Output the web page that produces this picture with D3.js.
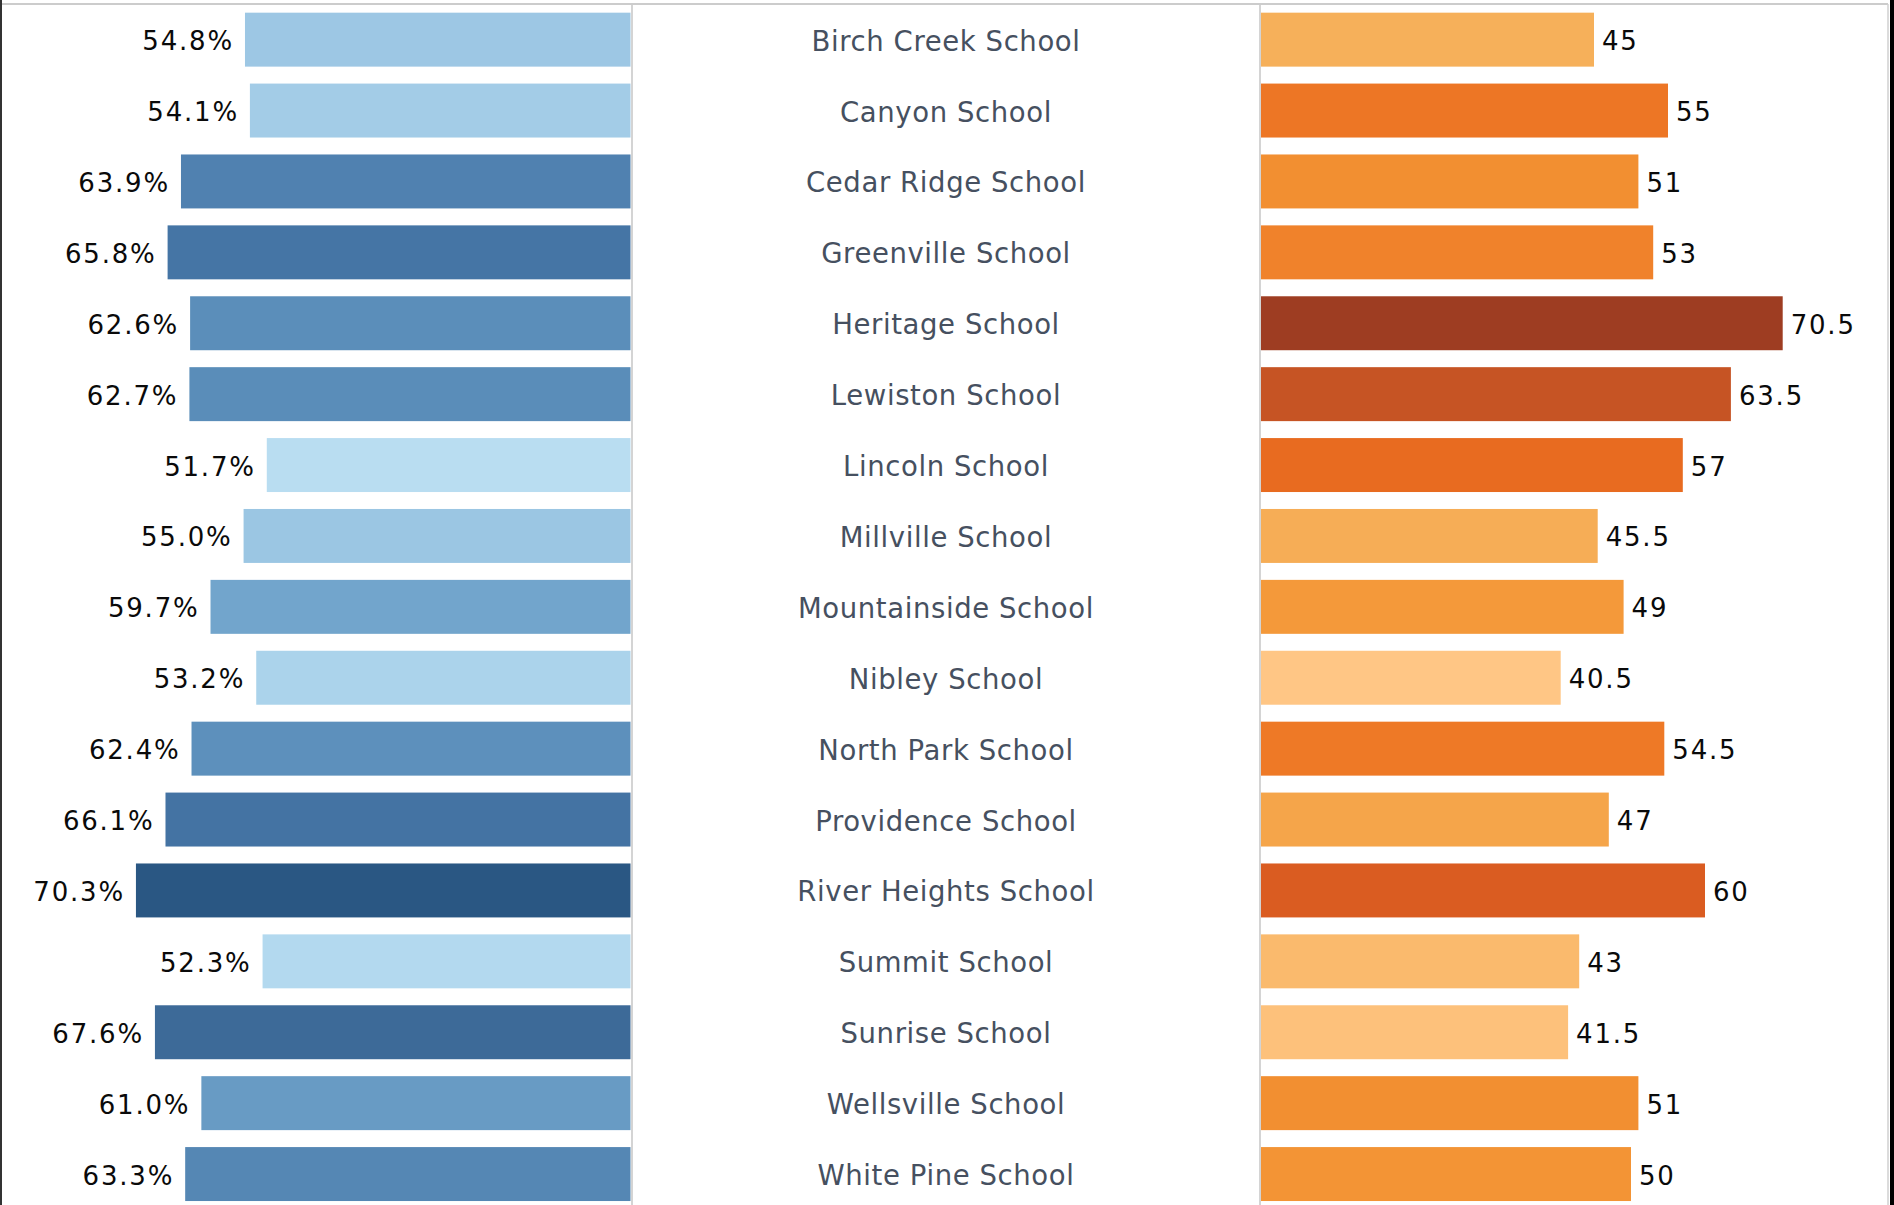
<!DOCTYPE html>
<html>
<head>
<meta charset="utf-8">
<script src="https://cdn.jsdelivr.net/npm/d3@7"></script>
<style>
  html, body { margin: 0; padding: 0; background: #fff; overflow: hidden; }
  svg { display: block; }
</style>
</head>
<body>
<svg id="chart" width="1894" height="1205"></svg>
<script>
const schools = ["Birch Creek School","Canyon School","Cedar Ridge School","Greenville School","Heritage School","Lewiston School","Lincoln School","Millville School","Mountainside School","Nibley School","North Park School","Providence School","River Heights School","Summit School","Sunrise School","Wellsville School","White Pine School"];
const leftValues = [54.8,54.1,63.9,65.8,62.6,62.7,51.7,55.0,59.7,53.2,62.4,66.1,70.3,52.3,67.6,61.0,63.3];
const rightValues = [45,55,51,53,70.5,63.5,57,45.5,49,40.5,54.5,47,60,43,41.5,51,50];

const rows = schools.map((s, i) => ({ school: s, left: leftValues[i], right: rightValues[i] }));

const W = 1894, H = 1205;
const svg = d3.select("#chart");

const y = d3.scaleBand().domain(schools).range([4.2, 4.2 + 17 * 70.9]).paddingInner(0.239).paddingOuter(0.1195);
const xL = d3.scaleLinear().domain([0, 80]).range([630.5, 630.5 - 80 * 7.035]);
const xR = d3.scaleLinear().domain([0, 80]).range([1261, 1261 + 80 * 7.40]);

const blueStops = ["#b9ddf1","#9cc7e4","#72a5cc","#5c8fbb","#4f80af","#4575a5","#3d6997","#2a5783"];
const blueT = [0, 0.17, 0.43, 0.58, 0.66, 0.76, 0.86, 1];
const orangeStops = ["#ffc685","#f6b05a","#f49a3a","#f28f31","#ee7826","#e86b20","#da5c21","#c55424","#9e3d22"];
const orangeT = [0, 0.15, 0.28, 0.35, 0.47, 0.55, 0.65, 0.77, 1];

const lExt = d3.extent(leftValues), rExt = d3.extent(rightValues);
const tL = d3.scaleLinear().domain(lExt).range([0, 1]);
const tR = d3.scaleLinear().domain(rExt).range([0, 1]);
const cL = d3.scaleLinear().domain(blueT).range(blueStops).interpolate(d3.interpolateRgb);
const cR = d3.scaleLinear().domain(orangeT).range(orangeStops).interpolate(d3.interpolateRgb);

const fmtL = d => d3.format(".1f")(d) + "%";
const fmtR = d => (d % 1 ? d3.format(".1f")(d) : d3.format("d")(d));

// axis lines
svg.append("line").attr("x1", 632).attr("x2", 632).attr("y1", 4).attr("y2", H)
  .attr("stroke", "#d4d4d4").attr("stroke-width", 2);
svg.append("line").attr("x1", 1260).attr("x2", 1260).attr("y1", 4).attr("y2", H)
  .attr("stroke", "#d4d4d4").attr("stroke-width", 2);

// left bars
svg.append("g").selectAll("rect").data(rows).join("rect")
  .attr("x", d => xL(d.left))
  .attr("y", d => y(d.school))
  .attr("width", d => xL(0) - xL(d.left))
  .attr("height", y.bandwidth())
  .attr("fill", d => cL(tL(d.left)));

// right bars
svg.append("g").selectAll("rect").data(rows).join("rect")
  .attr("x", xR(0))
  .attr("y", d => y(d.school))
  .attr("width", d => xR(d.right) - xR(0))
  .attr("height", y.bandwidth())
  .attr("fill", d => cR(tR(d.right)));

const font = "'DejaVu Sans', Verdana, sans-serif";

// left labels
svg.append("g").selectAll("text").data(rows).join("text")
  .attr("x", d => xL(d.left) - 11)
  .attr("y", d => y(d.school) + y.bandwidth() / 2 + 10.5)
  .attr("text-anchor", "end")
  .attr("font-family", font).attr("font-size", 26)
  .attr("letter-spacing", "1.8px")
  .attr("fill", "#0a0a0a")
  .text(d => fmtL(d.left));

// right labels
svg.append("g").selectAll("text").data(rows).join("text")
  .attr("x", d => xR(d.right) + 8)
  .attr("y", d => y(d.school) + y.bandwidth() / 2 + 10.5)
  .attr("text-anchor", "start")
  .attr("font-family", font).attr("font-size", 26)
  .attr("letter-spacing", "1.8px")
  .attr("fill", "#0a0a0a")
  .text(d => fmtR(d.right));

// center labels
svg.append("g").selectAll("text").data(rows).join("text")
  .attr("x", 946)
  .attr("y", d => y(d.school) + y.bandwidth() / 2 + 11)
  .attr("text-anchor", "middle")
  .attr("font-family", font).attr("font-size", 27.5)
  .attr("letter-spacing", "0.6px")
  .attr("fill", "#465060")
  .text(d => d.school);

// frame
svg.append("line").attr("x1", 0).attr("x2", 1888).attr("y1", 4).attr("y2", 4)
  .attr("stroke", "#cccccc").attr("stroke-width", 2);
svg.append("line").attr("x1", 1).attr("x2", 1).attr("y1", 0).attr("y2", H)
  .attr("stroke", "#333").attr("stroke-width", 2);
svg.append("line").attr("x1", 1888).attr("x2", 1888).attr("y1", 4).attr("y2", H)
  .attr("stroke", "#d0d0d0").attr("stroke-width", 1.5);
svg.append("line").attr("x1", 1892).attr("x2", 1892).attr("y1", 0).attr("y2", H)
  .attr("stroke", "#000").attr("stroke-width", 4);
</script>
</body>
</html>
